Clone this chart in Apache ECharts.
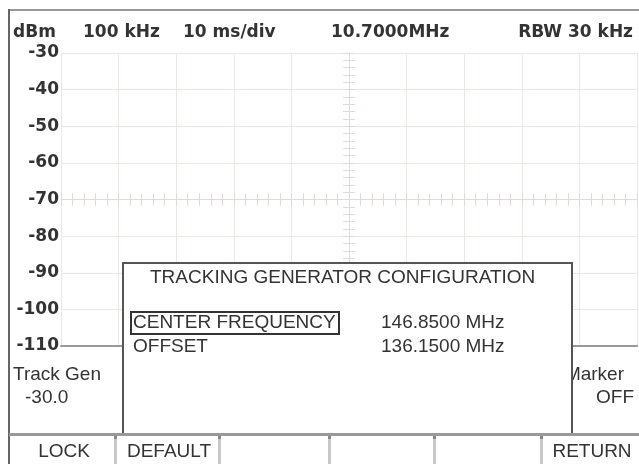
<!DOCTYPE html>
<html>
<head>
<meta charset="utf-8">
<script src="https://cdn.jsdelivr.net/npm/echarts@6/dist/echarts.min.js"></script>
<style>
  html, body { margin: 0; padding: 0; background: #fff; }
  #chart { width: 639px; height: 464px; }
</style>
</head>
<body>
<div id="chart"></div>
<script>
// level axis (dBm) and graticule
var levelMin = -110
var levelMax = -30
var levelStep = 10
var xDivisions = 10
var yDivisions = 8

// header readouts
var headerUnit = 'dBm'
var headerSpan = '100 kHz'
var headerSweep = '10 ms/div'
var headerCenter = '10.7000MHz'
var headerRbw = 'RBW 30 kHz'

// side readouts
var trackGenLabel = 'Track Gen'
var trackGenLevel = '-30.0'
var markerLabel = 'Marker'
var markerState = 'OFF'

// dialog
var dialogTitle = 'TRACKING GENERATOR CONFIGURATION'
var dialogItems = ['CENTER FREQUENCY', 'OFFSET']
var dialogValues = ['146.8500 MHz', '136.1500 MHz']

// soft keys
var softKeys = ['LOCK', 'DEFAULT', '', '', '', 'RETURN']

var GRID = '#efe5e5'
var TICK = '#e3d7d7'
var INK = '#333'
var BOLD = 'bold 17px "DejaVu Sans"'
var PLAIN = '19px "Liberation Sans"'

var chart = echarts.init(document.getElementById('chart'))

var gridRect = { left: 61, top: 53, right: 2, bottom: 118 }

// axes sitting on the centre cross, only there for the graticule ticks
function centerAxis(grid, pos, half) {
  return {
    gridIndex: grid,
    type: 'value',
    min: -half,
    max: half,
    interval: 1,
    position: pos,
    axisLine: { onZero: true, lineStyle: { color: TICK, width: 1 } },
    axisTick: { show: true, length: 6, lineStyle: { color: TICK } },
    minorTick: { show: true, splitNumber: 5, length: 6, lineStyle: { color: TICK } },
    axisLabel: { show: false },
    splitLine: { show: false }
  }
}

var els = []
function addText(x, y, str, font, align, z) {
  els.push({
    type: 'text', x: x, y: y, z: z || 10,
    style: { text: str, font: font, fill: INK, align: align || 'left', verticalAlign: 'middle' }
  })
}

// frame
els.push({ type: 'rect', z: 5, shape: { x: 9, y: 9, width: 640, height: 2 }, style: { fill: '#999' } })
els.push({ type: 'rect', z: 5, shape: { x: 8, y: 9, width: 2, height: 460 }, style: { fill: '#666' } })

// header
addText(13, 33, headerUnit, BOLD)
addText(83, 33, headerSpan, BOLD)
addText(183, 33, headerSweep, BOLD)
addText(331, 33, headerCenter, BOLD)
addText(633, 33, headerRbw, BOLD, 'right')

// side readouts
addText(13, 375, trackGenLabel, PLAIN)
addText(25, 398, trackGenLevel, PLAIN)
addText(624, 375, markerLabel, PLAIN, 'right', 50)
addText(634, 398, markerState, PLAIN, 'right')

// dialog
els.push({
  type: 'rect', z: 100,
  shape: { x: 123, y: 263, width: 449, height: 172 },
  style: { fill: '#fff', stroke: '#555', lineWidth: 2 }
})
addText(150, 278, dialogTitle, PLAIN, 'left', 101)
els.push({
  type: 'rect', z: 101,
  shape: { x: 131, y: 312, width: 208, height: 22 },
  style: { fill: 'none', stroke: '#333', lineWidth: 2 }
})
dialogItems.forEach(function (item, i) {
  addText(133, 323 + i * 24, item, PLAIN, 'left', 102)
  addText(381, 323 + i * 24, dialogValues[i], PLAIN, 'left', 102)
})

// soft key bar
var keyEdges = [9, 115, 219, 329, 434, 541, 639]
els.push({ type: 'rect', z: 110, shape: { x: 9, y: 433, width: 630, height: 3 }, style: { fill: '#999' } })
softKeys.forEach(function (label, i) {
  if (i > 0) {
    els.push({ type: 'rect', z: 110, shape: { x: keyEdges[i] - 1, y: 436, width: 3, height: 28 }, style: { fill: '#c8c8c8' } })
    els.push({ type: 'rect', z: 111, shape: { x: keyEdges[i] - 1, y: 436, width: 3, height: 3 }, style: { fill: '#888' } })
  }
  if (label) addText((keyEdges[i] + keyEdges[i + 1]) / 2 + 2, 452, label, PLAIN, 'center', 112)
})

chart.setOption({
  animation: false,
  backgroundColor: '#fff',
  grid: [
    Object.assign({}, gridRect),
    Object.assign({}, gridRect),
    Object.assign({}, gridRect)
  ],
  xAxis: [
    {
      gridIndex: 0,
      type: 'value',
      min: 0,
      max: xDivisions,
      interval: 1,
      axisLine: { show: true, onZero: false, lineStyle: { color: '#999', width: 2 } },
      axisTick: { show: false },
      axisLabel: { show: false },
      splitLine: { show: true, lineStyle: { color: GRID, width: 1 } }
    },
    centerAxis(1, 'bottom', xDivisions / 2),
    centerAxis(2, 'top', xDivisions / 2)
  ],
  yAxis: [
    {
      gridIndex: 0,
      type: 'value',
      min: levelMin,
      max: levelMax,
      interval: levelStep,
      axisLine: { show: false },
      axisTick: { show: false },
      axisLabel: { margin: 2, color: INK, fontFamily: 'DejaVu Sans', fontWeight: 'bold', fontSize: 17 },
      splitLine: { show: true, lineStyle: { color: GRID, width: 1 } }
    },
    centerAxis(1, 'left', yDivisions / 2),
    centerAxis(2, 'right', yDivisions / 2)
  ],
  graphic: { elements: els },
  series: []
})
</script>
</body>
</html>
